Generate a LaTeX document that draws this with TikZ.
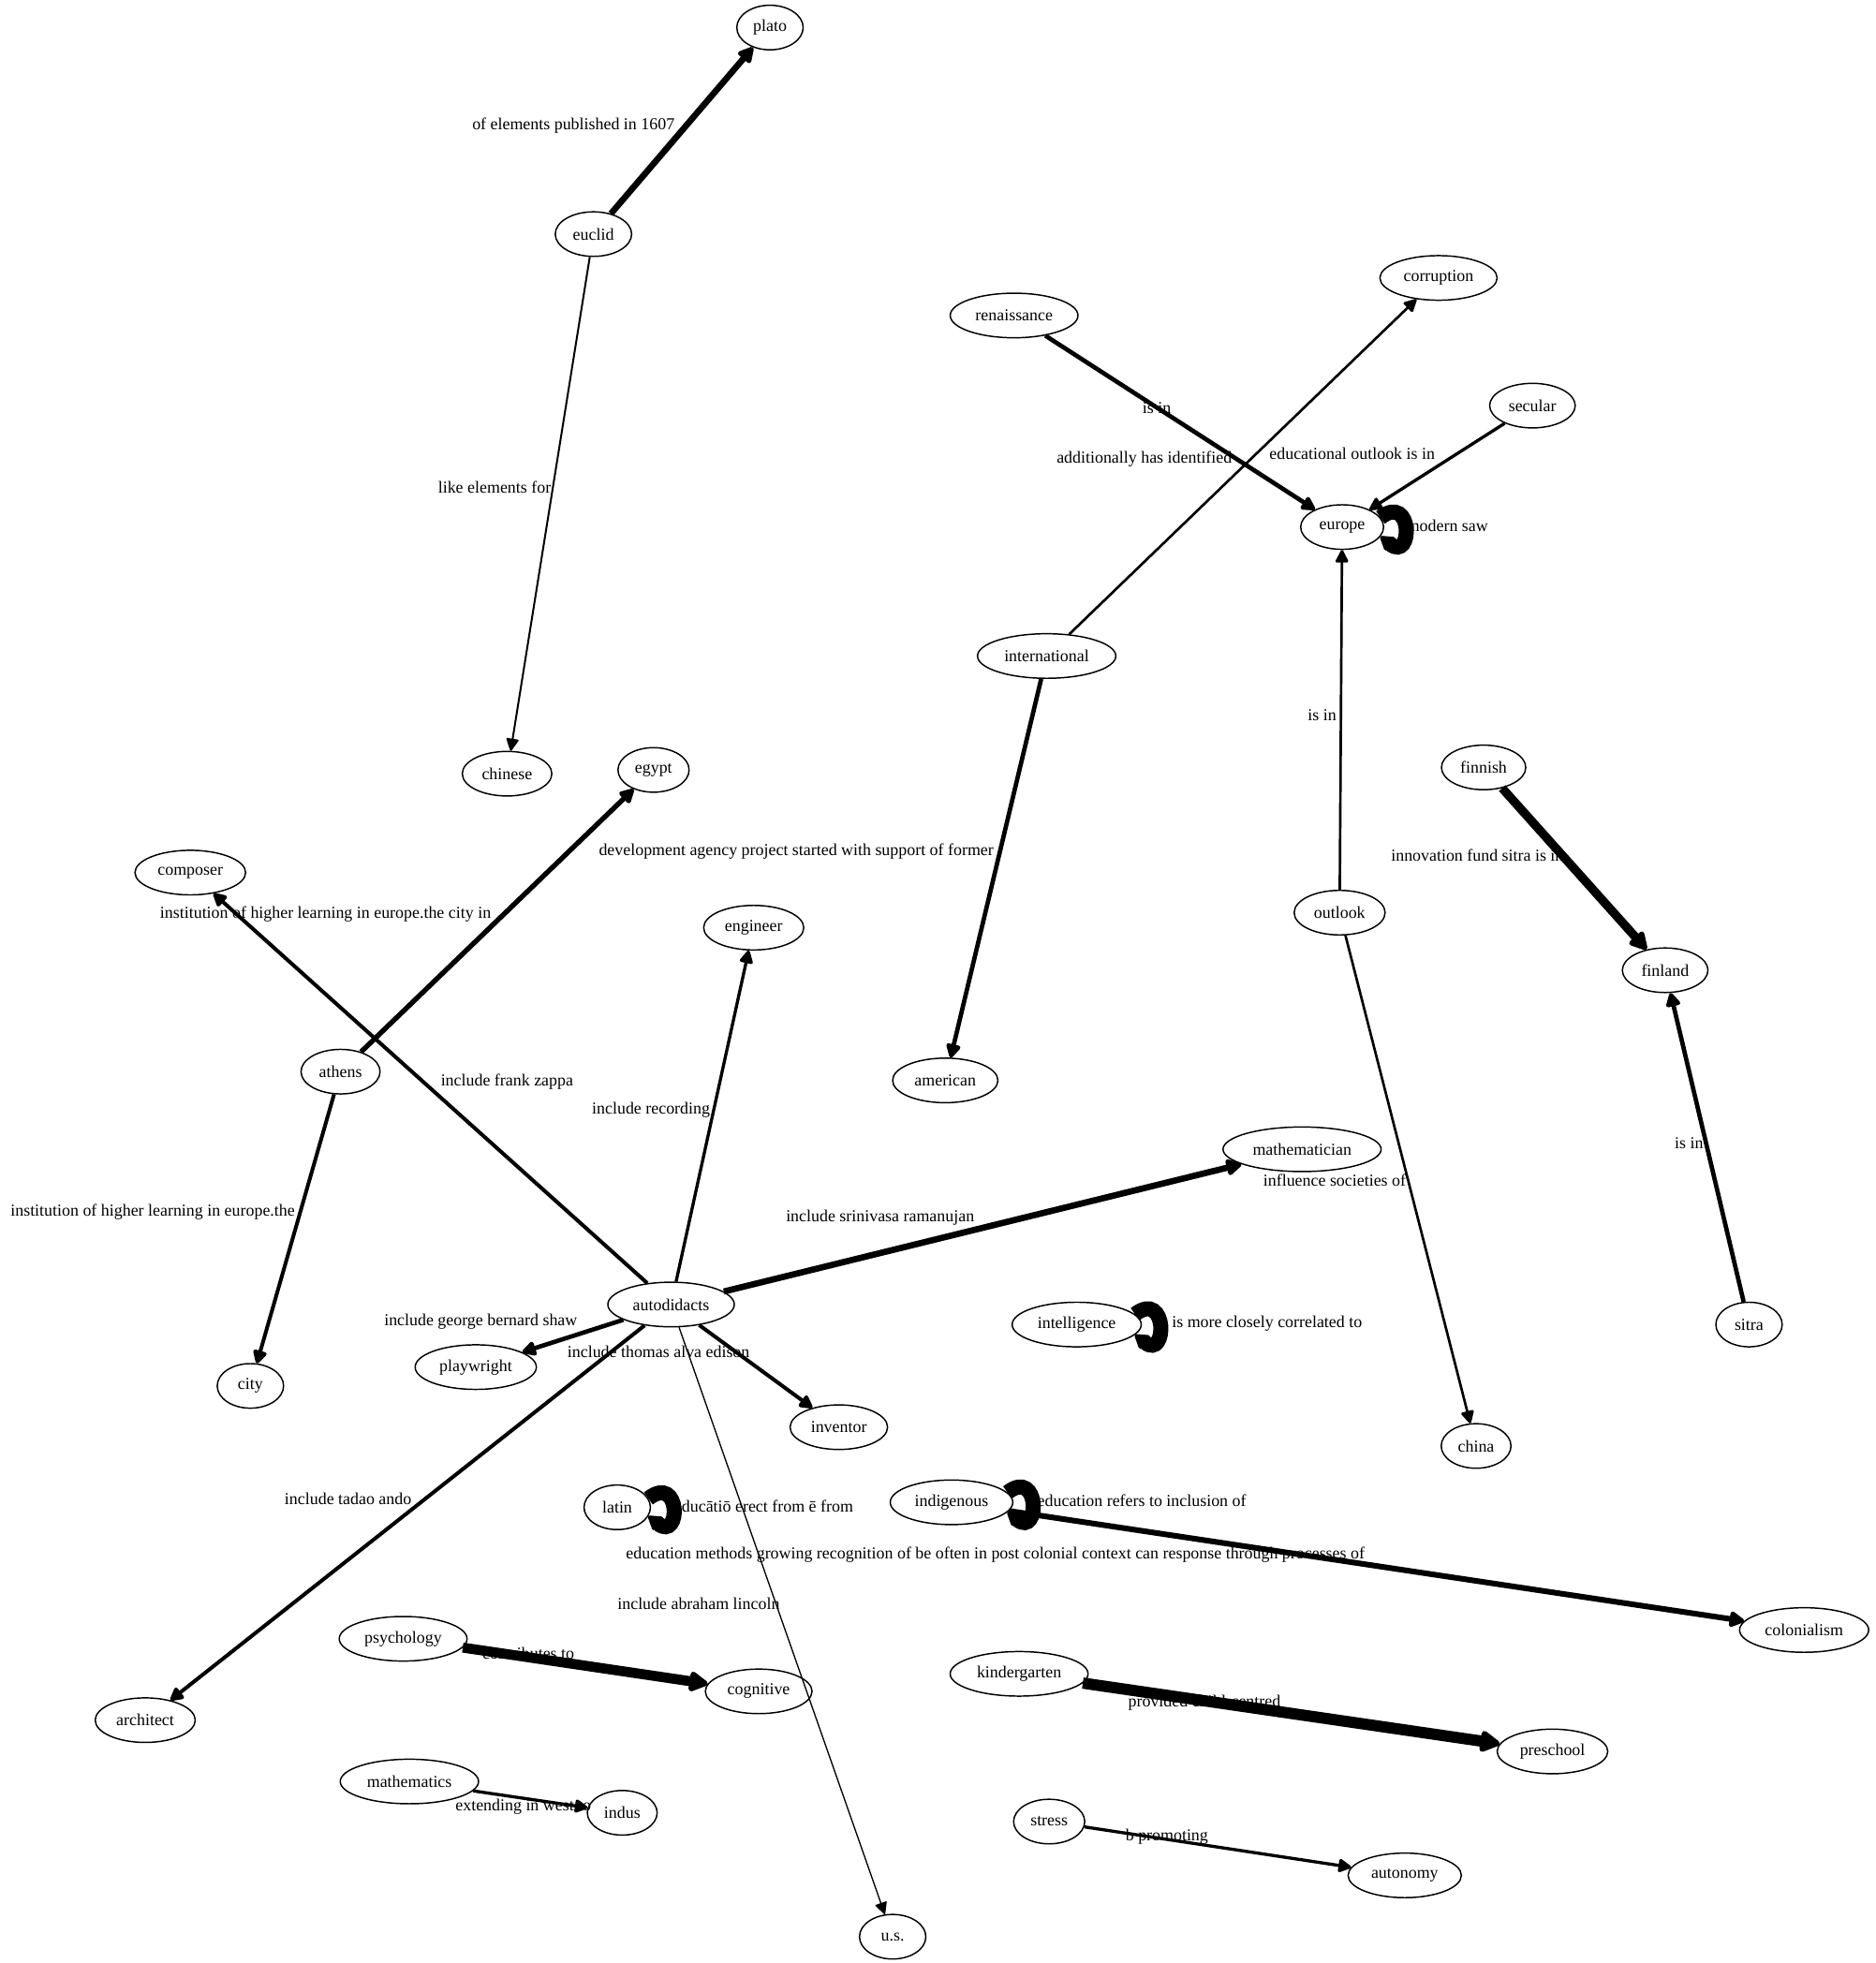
\documentclass[tikz,border=0pt]{standalone}
\usepackage{fontspec}
\setmainfont{Liberation Serif}
\usetikzlibrary{shapes.geometric,arrows.meta}
\tikzset{
  nd/.style={draw, ellipse, line width=0.55pt, inner xsep=2.6pt, inner ysep=0pt,
    minimum height=17.8pt, minimum width=26.5pt, font=\fontsize{6.7}{8}\selectfont},
  lbl/.style={inner sep=0pt, font=\fontsize{6.7}{8}\selectfont},
  ed/.style={-{Triangle[round, length=4.6pt 1, width=4.4pt 1.1]}, line width=#1},
  ed/.default=1pt,
  selfloop/.style={-{Triangle[round, length=2.5pt 0.6, width=2.5pt 0.8]}, line width=#1},
}
\begin{document}
\begin{tikzpicture}[x=0.5pt, y=-0.5pt]
\useasboundingbox (0,0) rectangle (1498,1568);
% labels (drawn first, edges go over them)
\node[lbl] (l1) at (458,100) {of elements published in 1607};
\node[lbl] (l2) at (395,389) {like elements for};
\node[lbl] (l3) at (924,326) {is in};
\node[lbl] (l4) at (914,367) {additionally has identified};
\node[lbl] (l5) at (1080,362) {educational outlook is in};
\node[lbl] (l6) at (1156,420) {modern saw};
\node[lbl] (l7) at (1056,571) {is in};
\node[lbl] (l8) at (1066,943) {influence societies of};
\node[lbl] (l9) at (1180,683) {innovation fund sitra is in};
\node[lbl] (l10) at (1349,913) {is in};
\node[lbl] (l11) at (636,680) {development agency project started with support of former};
\node[lbl] (l12) at (260,730) {institution of higher learning in europe.the city in};
\node[lbl] (l13) at (405,864) {include frank zappa};
\node[lbl] (l14) at (520,887) {include recording};
\node[lbl] (l15) at (122,968) {institution of higher learning in europe.the};
\node[lbl] (l16) at (703,973) {include srinivasa ramanujan};
\node[lbl] (l17) at (384,1056) {include george bernard shaw};
\node[lbl] (l18) at (526,1080) {include thomas alva edison};
\node[lbl] (l19) at (1012,1057) {is more closely correlated to};
\node[lbl] (l20) at (278,1197) {include tadao ando};
\node[lbl] (l21) at (610,1203) {educātiō erect from ē from};
\node[lbl] (l22) at (912,1199) {education refers to inclusion of};
\node[lbl] (l23) at (795,1242) {education methods growing recognition of be often in post colonial context can response through processes of};
\node[lbl] (l24) at (558,1281) {include abraham lincoln};
\node[lbl] (l25) at (422,1321) {contributes to};
\node[lbl] (l26) at (962,1360) {provided child-centred};
\node[lbl] (l27) at (418,1443) {extending in west to};
\node[lbl] (l28) at (932,1467) {b promoting};
% nodes
\node[nd] (plato) at (615,22) {plato};
\node[nd] (euclid) at (474,187) {euclid};
\node[nd] (chinese) at (405,618) {chinese};
\node[nd] (corruption) at (1149,222) {corruption};
\node[nd] (renaissance) at (810,252) {renaissance};
\node[nd] (secular) at (1224,324) {secular};
\node[nd] (europe) at (1072,421) {europe};
\node[nd] (international) at (836,524) {international};
\node[nd] (egypt) at (522,615) {egypt};
\node[nd] (finnish) at (1185,613) {finnish};
\node[nd] (composer) at (152,697) {composer};
\node[nd] (engineer) at (602,741) {engineer};
\node[nd] (outlook) at (1070,729) {outlook};
\node[nd] (finland) at (1330,775) {finland};
\node[nd] (athens) at (272,856) {athens};
\node[nd] (american) at (755,863) {american};
\node[nd] (mathematician) at (1040,918) {mathematician};
\node[nd] (autodidacts) at (536,1042) {autodidacts};
\node[nd] (intelligence) at (860,1058) {intelligence};
\node[nd] (sitra) at (1397,1058) {sitra};
\node[nd] (playwright) at (380,1092) {playwright};
\node[nd] (city) at (200,1107) {city};
\node[nd] (inventor) at (670,1140) {inventor};
\node[nd] (china) at (1179,1155) {china};
\node[nd] (latin) at (493,1204) {latin};
\node[nd] (indigenous) at (760,1200) {indigenous};
\node[nd] (colonialism) at (1441,1302) {colonialism};
\node[nd] (psychology) at (322,1309) {psychology};
\node[nd] (cognitive) at (606,1351) {cognitive};
\node[nd] (architect) at (116,1374) {architect};
\node[nd] (kindergarten) at (814,1337) {kindergarten};
\node[nd] (preschool) at (1240,1399) {preschool};
\node[nd] (mathematics) at (327,1423) {mathematics};
\node[nd] (indus) at (497,1448) {indus};
\node[nd] (stress) at (838,1455) {stress};
\node[nd] (autonomy) at (1122,1498) {autonomy};
\node[nd] (us) at (713,1547) {u.s.};
% edges
\draw[ed=2.5pt] (euclid) -- (plato);
\draw[ed=0.75pt] (euclid) -- (chinese);
\draw[ed=1.75pt] (renaissance) -- (europe);
\draw[ed=1pt] (international) -- (corruption);
\draw[ed=1.25pt] (secular) -- (europe);
\draw[ed=1.75pt] (international) -- (american);
\draw[ed=1pt] (outlook) -- (europe);
\draw[ed=1pt] (outlook) -- (china);
\draw[ed=3.5pt] (finnish) -- (finland);
\draw[ed=1.75pt] (sitra) -- (finland);
\draw[ed=2pt] (athens) -- (egypt);
\draw[ed=1.5pt] (athens) -- (city);
\draw[ed=1.5pt] (autodidacts) -- (composer);
\draw[ed=1.25pt] (autodidacts) -- (engineer);
\draw[ed=2.5pt] (autodidacts) -- (mathematician);
\draw[ed=1.75pt] (autodidacts) -- (playwright);
\draw[ed=1.5pt] (autodidacts) -- (inventor);
\draw[ed=1.5pt] (autodidacts) -- (architect);
\draw[ed=0.5pt] (autodidacts) -- (us);
\draw[ed=2.25pt] (indigenous) -- (colonialism);
\draw[ed=4pt] (psychology) -- (cognitive);
\draw[ed=4.5pt] (kindergarten) -- (preschool);
\draw[ed=1.25pt] (mathematics) -- (indus);
\draw[ed=1.25pt] (stress) -- (autonomy);
% self loops (drawn as thick, nearly solid blobs)
\draw[selfloop=6pt] (europe.14) .. controls +(26,-20) and +(26,20) .. (europe.-14);
\draw[selfloop=6pt] (intelligence.10) .. controls +(26,-20) and +(26,20) .. (intelligence.-10);
\draw[selfloop=6pt] (latin.16) .. controls +(26,-20) and +(26,20) .. (latin.-16);
\draw[selfloop=6pt] (indigenous.10) .. controls +(26,-20) and +(26,20) .. (indigenous.-10);
\end{tikzpicture}
\end{document}
